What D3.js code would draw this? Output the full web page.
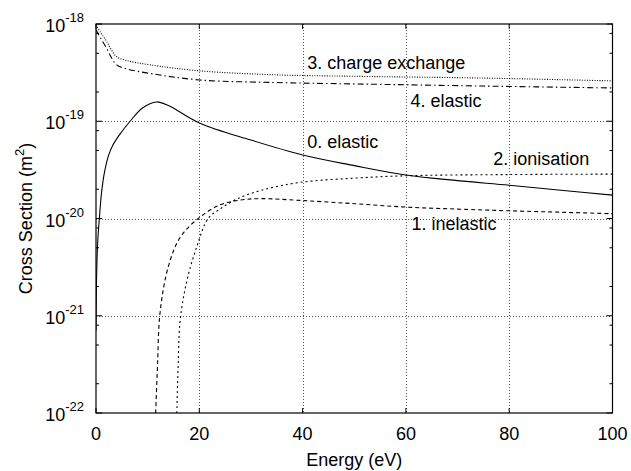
<!DOCTYPE html>
<head>
  <meta charset="utf-8">
  <script src="https://cdn.jsdelivr.net/npm/d3@7"></script>
  <style>
    body { margin:0; background:#fff; }
    text { font-family: "Liberation Sans", Arial, sans-serif; fill:#000; }
  </style>
</head>
<body>
<script>
  // cross sections, energy in eV, sigma in m^2
  var elastic0 = [[0,7e-22],[0.13,2.75e-21],[0.35,6e-21],[0.65,1e-20],[1.1,1.9e-20],[1.7,3.1e-20],[2.4,4.4e-20],
    [3.2,5.6e-20],[4.5,7.2e-20],[6.6,1e-19],[9,1.37e-19],[11.7,1.58e-19],[14,1.45e-19],[20,9.6e-20],[30,6.4e-20],
    [40,4.5e-20],[50,3.5e-20],[60,2.8e-20],[70,2.45e-20],[80,2.2e-20],[90,1.95e-20],[100,1.74e-20]];
  var inelastic1 = [[11.55,1e-22],[11.9,3e-22],[12.4,1.07e-21],[14,3.2e-21],[16.3,6.4e-21],
    [19.8,1e-20],[24,1.38e-20],[28,1.55e-20],[32,1.6e-20],[40,1.53e-20],[50,1.42e-20],
    [60,1.31e-20],[70,1.25e-20],[80,1.2e-20],[90,1.16e-20],[100,1.12e-20]];
  var ionisation2 = [[15.65,1e-22],[15.9,3e-22],[16.3,9e-22],[17.6,2.3e-21],[19.5,5.1e-21],
    [21.7,1e-20],[24,1.25e-20],[27.2,1.58e-20],[32,1.95e-20],[39.5,2.35e-20],[50,2.6e-20],
    [60,2.75e-20],[80,2.83e-20],[100,2.86e-20]];
  var chargeEx3 = [[0,9.8e-19],[1,8e-19],[2,6.7e-19],[3,5.4e-19],[4,4.6e-19],[6,4.2e-19],[10.5,3.8e-19],[20,3.3e-19],
    [35,3.0e-19],[50,2.9e-19],[75,2.78e-19],[100,2.6e-19]];
  var elastic4 = [[0,8.7e-19],[1,7e-19],[2,5.7e-19],[3,4.5e-19],[4,3.8e-19],[6,3.45e-19],[10.5,3.1e-19],[20,2.66e-19],
    [35,2.5e-19],[50,2.42e-19],[75,2.3e-19],[100,2.2e-19]];

  var seriesNames = ["0. elastic","1. inelastic","2. ionisation","3. charge exchange","4. elastic"];
  var seriesData = [elastic0, inelastic1, ionisation2, chargeEx3, elastic4];
  // label anchors in data units (energy, sigma)
  var labelX = [40.9, 61.1, 76.9, 40.9, 60.9];
  var labelY = [5.28e-20, 7.6e-21, 3.56e-20, 3.42e-19, 1.41e-19];

  var xTicks = [0, 20, 40, 60, 80, 100];
  var yExps = [-22, -21, -20, -19, -18];
  var minorMult = [2, 5, 8];

  var width = 631, height = 471;
  var pLeft = 96, pTop = 24, pRight = 612.5, pBottom = 413;

  var svg = d3.select("body").append("svg")
    .attr("width", width).attr("height", height);

  var x = d3.scaleLinear().domain([0, 100]).range([pLeft, pRight]);
  var y = d3.scaleLog().domain([1e-22, 1e-18]).range([pBottom, pTop]);

  var dashes = [null, "4,3", "2,3", "1,1.5", "6,3,1.5,3"];

  // grid
  var gx = svg.append("g");
  gx.selectAll("line.vx").data(xTicks.slice(1, -1)).enter().append("line")
    .attr("x1", d => Math.round(x(d)) + 0.5).attr("x2", d => Math.round(x(d)) + 0.5)
    .attr("y1", pTop).attr("y2", pBottom)
    .attr("stroke", "#555").attr("stroke-dasharray", "1,2").attr("stroke-width", 1);
  gx.selectAll("line.hy").data(yExps.slice(1, -1)).enter().append("line")
    .attr("y1", d => Math.round(y(Math.pow(10, d))) + 0.5).attr("y2", d => Math.round(y(Math.pow(10, d))) + 0.5)
    .attr("x1", pLeft).attr("x2", pRight)
    .attr("stroke", "#555").attr("stroke-dasharray", "1,2").attr("stroke-width", 1);

  // ticks on left and right
  var minors = [];
  yExps.slice(0, -1).forEach(function(e) {
    minorMult.forEach(function(m) { minors.push(m * Math.pow(10, e)); });
  });
  var tk = svg.append("g").attr("stroke", "#000").attr("stroke-width", 1);
  [[pLeft, 1], [pRight, -1]].forEach(function(s) {
    tk.selectAll(null).data(yExps).enter().append("line")
      .attr("x1", s[0]).attr("x2", s[0] + s[1] * 6)
      .attr("y1", d => y(Math.pow(10, d))).attr("y2", d => y(Math.pow(10, d)));
    tk.selectAll(null).data(minors).enter().append("line")
      .attr("x1", s[0]).attr("x2", s[0] + s[1] * 3)
      .attr("y1", d => y(d)).attr("y2", d => y(d));
  });
  [[pBottom, -1], [pTop, 1]].forEach(function(s) {
    tk.selectAll(null).data(xTicks).enter().append("line")
      .attr("x1", d => x(d)).attr("x2", d => x(d))
      .attr("y1", s[0]).attr("y2", s[0] + s[1] * 5);
  });

  // curves
  svg.append("clipPath").attr("id", "clip").append("rect")
    .attr("x", pLeft).attr("y", pTop).attr("width", pRight - pLeft).attr("height", pBottom - pTop);

  var line = d3.line()
    .x(d => x(d[0])).y(d => y(d[1]))
    .curve(d3.curveCatmullRom.alpha(0.5));

  svg.append("g").attr("clip-path", "url(#clip)")
    .selectAll("path").data(seriesData).enter().append("path")
    .attr("d", line)
    .attr("fill", "none").attr("stroke", "#000").attr("stroke-width", 1.1)
    .attr("stroke-dasharray", (d, i) => dashes[i]);

  // border
  svg.append("rect").attr("x", pLeft).attr("y", pTop)
    .attr("width", pRight - pLeft).attr("height", pBottom - pTop)
    .attr("fill", "none").attr("stroke", "#000").attr("stroke-width", 1.2);

  // tick labels
  svg.selectAll("text.xt").data(xTicks).enter().append("text")
    .attr("x", d => x(d)).attr("y", pBottom + 27)
    .attr("text-anchor", "middle").style("font-size", "18px")
    .text(d => d);

  var yt = svg.selectAll("text.yt").data(yExps).enter().append("text")
    .attr("x", 84).attr("y", d => y(Math.pow(10, d)) + 8)
    .attr("text-anchor", "end").style("font-size", "18px");
  yt.append("tspan").text("10");
  yt.append("tspan").attr("dy", -10).style("font-size", "13px").text(d => d);

  // axis titles
  svg.append("text").attr("x", (pLeft + pRight) / 2).attr("y", 466)
    .attr("text-anchor", "middle").style("font-size", "18px").text("Energy (eV)");
  var yl = svg.append("text")
    .attr("transform", "translate(32," + ((pTop + pBottom) / 2) + ") rotate(-90)")
    .attr("text-anchor", "middle").style("font-size", "18px");
  yl.append("tspan").text("Cross Section (m");
  yl.append("tspan").attr("dy", -8).style("font-size", "13px").text("2");
  yl.append("tspan").attr("dy", 8).text(")");

  // curve labels
  svg.selectAll("text.lab").data(seriesNames).enter().append("text")
    .attr("x", (d, i) => x(labelX[i])).attr("y", (d, i) => y(labelY[i]))
    .style("font-size", "18px")
    .text(d => d);
</script>
</body>
